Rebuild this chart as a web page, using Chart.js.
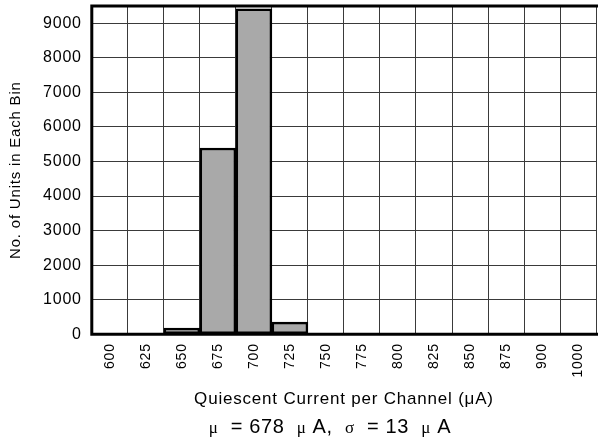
<!DOCTYPE html>
<html>
<head>
<meta charset="utf-8">
<script src="https://cdn.jsdelivr.net/npm/chart.js@4/dist/chart.umd.min.js"></script>
<style>
  html, body { margin: 0; padding: 0; background: #fff; overflow: hidden; }
  #wrap { width: 604px; height: 445px; position: relative; }
</style>
</head>
<body>
<div id="wrap"><canvas id="histChart"></canvas></div>
<script>
// bins of quiescent current (uA) and units counted in each bin
let binLabels = ["600","625","650","675","700","725","750","775","800","825","850","875","900","1000"];
let unitCounts = [0, 0, 180, 5390, 9420, 350, 0, 0, 0, 0, 0, 0, 0, 0];
let yTickStep = 500;
let yLabelStep = 1000;
let yMax = 9500;

let fontFamily = "'Liberation Sans', Arial, sans-serif";
let serifFamily = "'Liberation Serif', 'Times New Roman', serif";

// the original text is a bit wider than Arial
const spacingPlugin = {
    id: "spacing",
    beforeLayout(chart){ chart.ctx.letterSpacing = "0.8px"; },
    beforeDraw(chart){ chart.ctx.letterSpacing = "0.8px"; }
};

// thick frame around the plot area (left, top, bottom)
const framePlugin = {
    id: "frame",
    afterDraw(chart){
        const a = chart.chartArea;
        const ctx = chart.ctx;
        ctx.save();
        ctx.strokeStyle = "#000";
        ctx.lineWidth = 3;
        ctx.beginPath();
        ctx.moveTo(a.right + 2, a.top);
        ctx.lineTo(a.left, a.top);
        ctx.lineTo(a.left, a.bottom);
        ctx.lineTo(a.right + 2, a.bottom);
        ctx.stroke();
        ctx.restore();
    }
};

// statistics line under the axis title, greek letters in a serif face
const statsPlugin = {
    id: "stats",
    afterDraw(chart){
        const ctx = chart.ctx;
        const a = chart.chartArea;
        const parts = [
            ["\u03bc", serifFamily, 17],
            ["  = 678  ", fontFamily, 20],
            ["\u03bc", serifFamily, 17],
            [" A,  ", fontFamily, 20],
            ["\u03c3", serifFamily, 17],
            ["  = 13  ", fontFamily, 20],
            ["\u03bc", serifFamily, 17],
            [" A", fontFamily, 20]
        ];
        ctx.save();
        ctx.letterSpacing = "0.6px";
        ctx.fillStyle = "#000";
        ctx.textBaseline = "alphabetic";
        ctx.textAlign = "left";
        let total = 0;
        parts.forEach(p => {
            ctx.font = p[2] + "px " + p[1];
            total += ctx.measureText(p[0]).width;
        });
        let x = (a.left + a.right) / 2 - 14 - total / 2;
        const y = chart.height - 12;
        parts.forEach(p => {
            ctx.font = p[2] + "px " + p[1];
            ctx.fillText(p[0], x, y);
            x += ctx.measureText(p[0]).width;
        });
        ctx.restore();
    }
};

new Chart("histChart", {
    type: "bar",
    data: {
        labels: binLabels,
        datasets: [{
            data: unitCounts,
            backgroundColor: "#a9a9a9",
            borderColor: "#000",
            borderWidth: 2.5,
            borderSkipped: false,
            barPercentage: 1,
            categoryPercentage: 1
        }]
    },
    options: {
        responsive: true,
        maintainAspectRatio: false,
        animation: false,
        layout: { padding: { top: 6, right: 3, left: 7, bottom: 35 } },
        scales: {
            x: {
                grid: { color: "#3a3a3a", lineWidth: 1, drawTicks: false },
                border: { display: false },
                ticks: {
                    color: "#000",
                    font: { family: fontFamily, size: 14 },
                    minRotation: 90,
                    maxRotation: 90,
                    padding: 9
                },
                title: {
                    display: true,
                    text: "Quiescent Current per Channel (\u03bcA)",
                    color: "#000",
                    font: { family: fontFamily, size: 17 },
                    padding: { top: 3, bottom: 0 }
                }
            },
            y: {
                min: 0,
                max: yMax,
                afterFit(scale){ scale.paddingTop = 0; scale.paddingBottom = 0; },
                grid: { color: "#3a3a3a", lineWidth: 1, drawTicks: false },
                border: { display: false },
                ticks: {
                    stepSize: yTickStep,
                    color: "#000",
                    font: { family: fontFamily, size: 16 },
                    padding: 10,
                    callback: v => (v % yLabelStep === 0 && v < yMax) ? v : ""
                },
                title: {
                    display: true,
                    text: "No. of Units in Each Bin",
                    color: "#000",
                    font: { family: fontFamily, size: 15 },
                    padding: { top: 0, bottom: 8 }
                }
            }
        },
        plugins: {
            legend: { display: false },
            tooltip: { enabled: false }
        }
    },
    plugins: [spacingPlugin, framePlugin, statsPlugin]
});
</script>
</body>
</html>
